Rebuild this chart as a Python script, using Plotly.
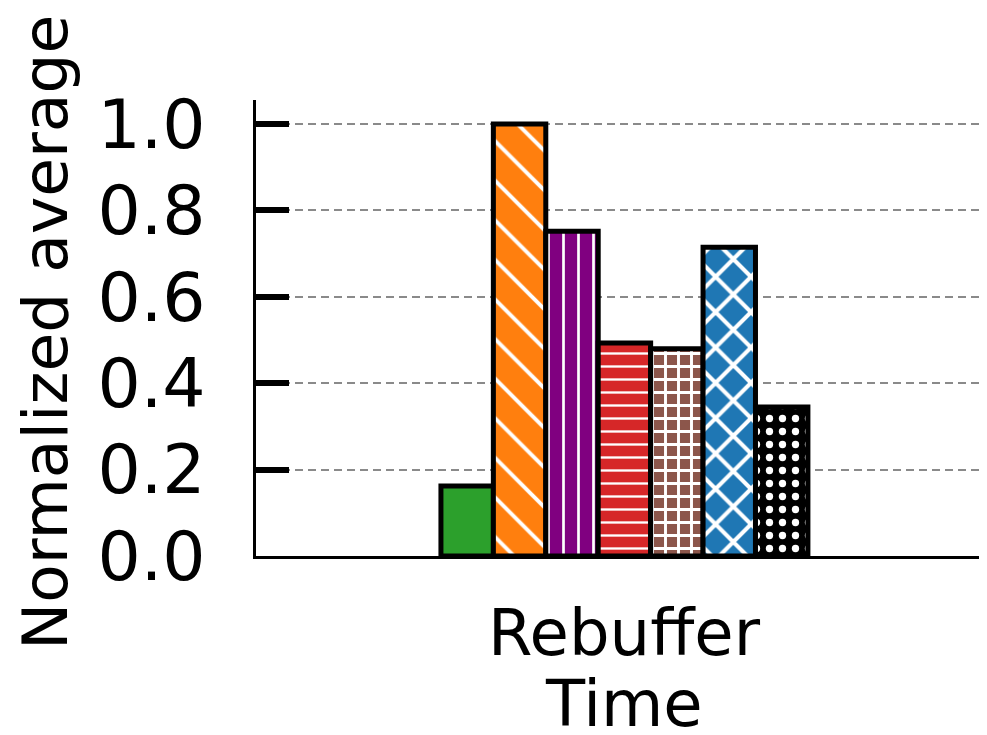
import plotly.graph_objects as go

categories = ["Rebuffer Time"]
series_names = ["Scheme A", "Scheme B", "Scheme C", "Scheme D", "Scheme E", "Scheme F", "Scheme G"]
series_values = [[0.162], [1.0], [0.752], [0.493], [0.480], [0.715], [0.345]]
colors = ["#2ca02c", "#ff7f0e", "#800080", "#d62728", "#8c564b", "#1f77b4", "#000000"]
hatches = ["", "\\", "|", "-", "+", "x", "."]
hatch_sizes = [10, 28, 15, 13, 13, 25, 13]
hatch_solidity = [0.2, 0.14, 0.18, 0.18, 0.4, 0.3, 0.25]
y_ticks = [0.0, 0.2, 0.4, 0.6, 0.8, 1.0]
y_title = "Normalized average"

font = "DejaVu Sans"

fig = go.Figure()
for name, vals, col, hatch, hs, sol in zip(series_names, series_values, colors, hatches, hatch_sizes, hatch_solidity):
    fig.add_trace(go.Bar(
        x=categories, y=vals, name=name,
        marker=dict(
            color=col,
            line=dict(color="black", width=5),
            pattern=dict(shape=hatch, size=hs, solidity=sol,
                         fgcolor="white", fgopacity=1, bgcolor=col, fillmode="overlay"),
        ),
        showlegend=False,
    ))

# page body has an 8px margin, so the figure is 8px smaller and margins shifted
fig.update_layout(
    width=979, height=727,
    margin=dict(l=248, r=0, t=92, b=179),
    plot_bgcolor="white", paper_bgcolor="white",
    barmode="group", bargap=0.498, bargroupgap=0,
    font=dict(family=font, color="black", size=64),
)
fig.update_yaxes(
    range=[0, 1.0556], tickvals=y_ticks, ticktext=[f"{v:.1f}" for v in y_ticks],
    ticks="inside", ticklen=33, tickwidth=6, tickcolor="black",
    tickfont=dict(size=68, family=font), ticklabelstandoff=34,
    showline=True, linecolor="black", linewidth=2.5,
    showgrid=True, gridcolor="#8a8a8a", gridwidth=2, griddash="8px,5px",
    zeroline=False,
)
fig.update_xaxes(
    range=[-0.504, 0.496], showticklabels=False, ticks="",
    showline=True, linecolor="black", linewidth=2.5, showgrid=False, zeroline=False,
)

# y axis title
fig.add_annotation(text=y_title, textangle=-90, xref="paper", yref="paper",
                   x=0, y=0.5, xanchor="center", yanchor="middle",
                   xshift=-211, yshift=-5, showarrow=False,
                   font=dict(size=63, family=font))

# category label split across two lines
for i, line in enumerate(categories[0].split(" ")):
    fig.add_annotation(text=line, xref="x", yref="paper", x=categories[0], y=0,
                       yshift=-(116 + 71 * i), showarrow=False,
                       font=dict(size=64, family=font))

# no scrollbars, so the plot can reach the right edge of the window
fig.write_html("out.html", post_script="document.documentElement.style.overflow='hidden';")
